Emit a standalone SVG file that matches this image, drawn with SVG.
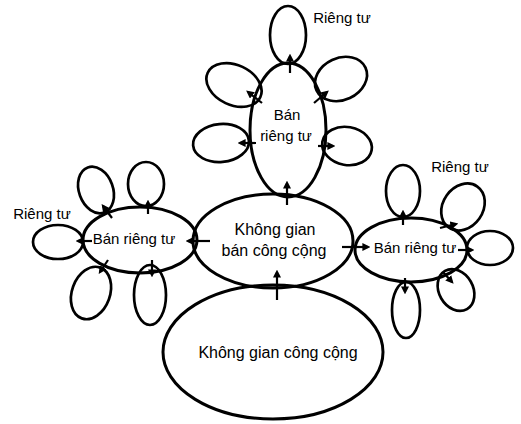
<svg xmlns="http://www.w3.org/2000/svg" width="521" height="424" viewBox="0 0 521 424">
<defs>
<style>
.s{fill:none;stroke:#000;stroke-width:3}
.p{fill:none;stroke:#000;stroke-width:2.7}
.a{fill:none;stroke:#000;stroke-width:2.2;marker-end:url(#ah)}
.t{font-family:"Liberation Sans",Arial,sans-serif;font-size:15px;fill:#000;text-anchor:middle}
.m{font-size:16px}
</style>
<marker id="ah" viewBox="0 0 10 10" refX="7" refY="5" markerWidth="8" markerHeight="8" orient="auto" markerUnits="userSpaceOnUse">
<path d="M0,0 L10,5 L0,10 Z" fill="#000"/>
</marker>
</defs>
<rect width="521" height="424" fill="#fff"/>

<g id="public">
<ellipse class="s" cx="273" cy="352" rx="110" ry="67"/>
<text class="t m" x="278" y="358">Không gian công cộng</text>
</g>

<g id="semipublic">
<ellipse class="s" cx="273" cy="241" rx="80" ry="47"/>
<text class="t m" x="275" y="235">Không gian</text>
<text class="t m" x="274" y="256">bán công cộng</text>
</g>

<g id="semiprivate-top">
<ellipse class="s" cx="288" cy="130" rx="38" ry="67"/>
<text class="t" x="287" y="120">Bán</text>
<text class="t" x="286" y="141">riêng tư</text>
</g>

<g id="semiprivate-left">
<ellipse class="s" cx="140" cy="240" rx="57" ry="33"/>
<text class="t" x="134" y="244">Bán riêng tư</text>
</g>

<g id="semiprivate-right">
<ellipse class="s" cx="411" cy="250" rx="56" ry="32"/>
<text class="t" x="415" y="253">Bán riêng tư</text>
</g>

<g id="private-top">
<ellipse class="p" cx="288" cy="35" rx="18" ry="29"/>
<ellipse class="p" cx="234" cy="85" rx="29" ry="20" transform="rotate(25 234 85)"/>
<ellipse class="p" cx="341" cy="79" rx="27" ry="21" transform="rotate(-25 341 79)"/>
<ellipse class="p" cx="221" cy="143" rx="28" ry="19" transform="rotate(-5 221 143)"/>
<ellipse class="p" cx="347" cy="146" rx="25" ry="19" transform="rotate(10 347 146)"/>
<text class="t" x="342" y="23">Riêng tư</text>
</g>

<g id="private-left">
<ellipse class="p" cx="96" cy="190" rx="17" ry="24" transform="rotate(-20 96 190)"/>
<ellipse class="p" cx="146" cy="184" rx="18" ry="22"/>
<ellipse class="p" cx="58" cy="242" rx="25" ry="17"/>
<ellipse class="p" cx="91" cy="293" rx="19" ry="27" transform="rotate(20 91 293)"/>
<ellipse class="p" cx="150" cy="295" rx="16" ry="30"/>
<text class="t" x="42" y="219">Riêng tư</text>
</g>

<g id="private-right">
<ellipse class="p" cx="403" cy="191" rx="17" ry="26"/>
<ellipse class="p" cx="463" cy="207" rx="20" ry="25" transform="rotate(35 463 207)"/>
<ellipse class="p" cx="490" cy="248" rx="23" ry="17"/>
<ellipse class="p" cx="456" cy="290" rx="17" ry="22" transform="rotate(-30 456 290)"/>
<ellipse class="p" cx="406" cy="310" rx="14" ry="28"/>
<text class="t" x="460" y="172">Riêng tư</text>
</g>

<g id="connectors">
<line class="a" x1="277" y1="300" x2="277" y2="272"/>
<line class="a" x1="287" y1="205" x2="287" y2="183"/>
<line class="a" x1="210" y1="241" x2="188" y2="241"/>
<line class="a" x1="342" y1="247" x2="368" y2="247"/>
<line class="a" x1="290" y1="73" x2="290" y2="56"/>
<line class="a" x1="262" y1="103" x2="248" y2="92"/>
<line class="a" x1="314" y1="103" x2="327" y2="92"/>
<line class="a" x1="256" y1="143" x2="240" y2="143"/>
<line class="a" x1="318" y1="146" x2="333" y2="146"/>
<line class="a" x1="112" y1="218" x2="103" y2="206"/>
<line class="a" x1="148" y1="214" x2="148" y2="202"/>
<line class="a" x1="92" y1="241" x2="78" y2="241"/>
<line class="a" x1="108" y1="260" x2="100" y2="272"/>
<line class="a" x1="152" y1="260" x2="152" y2="275"/>
<line class="a" x1="403" y1="225" x2="403" y2="212"/>
<line class="a" x1="440" y1="228" x2="456" y2="224"/>
<line class="a" x1="458" y1="250" x2="472" y2="250"/>
<line class="a" x1="443" y1="272" x2="452" y2="282"/>
<line class="a" x1="405" y1="278" x2="405" y2="292"/>
</g>
</svg>
